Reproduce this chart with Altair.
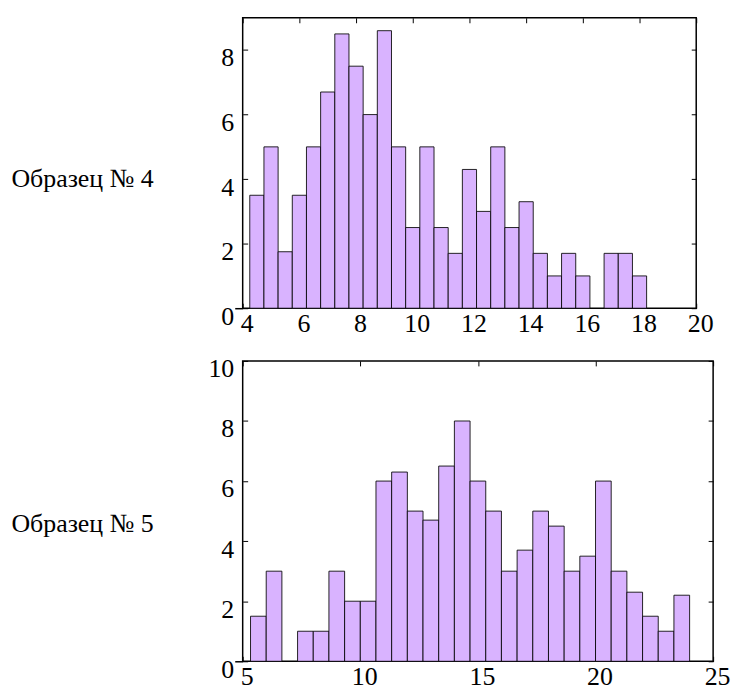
import altair as alt
import pandas as pd

# Sample 4: bin centres (width 0.5) and heights
s4_centers = [4.5, 5.0, 5.5, 6.0, 6.5, 7.0, 7.5, 8.0, 8.5, 9.0, 9.5, 10.0, 10.5, 11.0,
              11.5, 12.0, 12.5, 13.0, 13.5, 14.0, 14.5, 15.0, 15.5, 16.0, 16.5, 17.0,
              17.5, 18.0]
s4_values = [3.5, 5.0, 1.75, 3.5, 5.0, 6.7, 8.5, 7.5, 6.0, 8.6, 5.0, 2.5, 5.0, 2.5,
             1.7, 4.3, 3.0, 5.0, 2.5, 3.3, 1.7, 1.0, 1.7, 1.0, 0.0, 1.7, 1.7, 1.0]
s4_width = 0.5

# Sample 5: bin centres (width 2/3) and heights
s5_width = 2 / 3
s5_centers = [5.667 + k * s5_width for k in range(28)]
s5_values = [1.5, 3.0, 0.0, 1.0, 1.0, 3.0, 2.0, 2.0, 6.0, 6.3, 5.0, 4.7, 6.5, 8.0,
             6.0, 5.0, 3.0, 3.7, 5.0, 4.5, 3.0, 3.5, 6.0, 3.0, 2.3, 1.5, 1.0, 2.2]

labels = ["Образец № 4", "Образец № 5"]

FONT = "Liberation Serif, Times New Roman, serif"
FILL = "#d9b3ff"
FS = 26


def make_df(centers, values, w):
    return pd.DataFrame({
        "x0": [c - w / 2 for c in centers],
        "x1": [c + w / 2 for c in centers],
        "y": values,
    }).query("y > 0")


def panel(df, xdom, xticks, ydom, yticks, label, w, h, ty):
    base = alt.Chart(df)
    xs = alt.Scale(domain=xdom, nice=False, zero=False)
    ys = alt.Scale(domain=ydom, nice=False)
    bars = base.mark_rect(fill=FILL, stroke="#000000", strokeWidth=1, strokeOpacity=0.85).encode(
        x=alt.X("x0:Q", scale=xs,
                axis=alt.Axis(values=xticks, title=None, grid=False, labelFont=FONT,
                              labelFontSize=FS, labelColor="black", domain=False,
                              tickColor="black", tickSize=5, offset=-5, labelPadding=2,
                              labelOffset=4, labelFlush=False)),
        x2="x1:Q",
        y=alt.Y("y:Q", scale=ys,
                axis=alt.Axis(values=yticks, title=label, titleAngle=0, titleAlign="right",
                              titleBaseline="alphabetic", titleFont=FONT, titleFontSize=FS,
                              titleFontWeight="normal", titleColor="black",
                              titleX=-95, titleY=ty,
                              grid=False, labelFont=FONT, labelFontSize=FS,
                              labelColor="black", domain=False, tickColor="black",
                              tickSize=5, offset=-5, labelPadding=9, labelOffset=8,
                              labelFlush=False)),
    )
    frame_ax = base.mark_rule(opacity=0).encode(
        x=alt.X("x0:Q", scale=xs,
                axis=alt.Axis(orient="top", values=xticks, labels=False, title=None,
                              domain=False, tickColor="black", tickSize=5, offset=-5,
                              grid=False)),
        y=alt.Y("y:Q", scale=ys,
                axis=alt.Axis(orient="right", values=yticks, labels=False, title=None,
                              domain=False, tickColor="black", tickSize=5, offset=-5,
                              grid=False)),
    )
    # short outward stub of the baseline to the left of the frame
    stub_ax = base.mark_rule(opacity=0).encode(
        y=alt.Y("y:Q", scale=ys,
                axis=alt.Axis(orient="left", values=[ydom[0]], labels=False, title=None,
                              domain=False, tickColor="black", tickSize=8, tickWidth=1.5,
                              grid=False)),
    )
    return alt.layer(bars, frame_ax, stub_ax).resolve_axis(
        x="independent", y="independent").properties(width=w, height=h)


c4 = panel(make_df(s4_centers, s4_values, s4_width), [4, 20], [4, 6, 8, 10, 12, 14, 16, 18, 20],
           [0, 9], [0, 2, 4, 6, 8], labels[0], 456, 292, 170)
c5 = panel(make_df(s5_centers, s5_values, s5_width), [5, 25], [5, 10, 15, 20, 25],
           [0, 10], [0, 2, 4, 6, 8, 10], labels[1], 473, 302, 172)

chart = alt.vconcat(c4, c5, spacing=18).configure(
    background="white",
    padding={"left": 10, "top": 14, "right": 5, "bottom": 0},
    view=alt.ViewConfig(stroke="black", strokeWidth=1.5),
)

chart.save("out.html", embed_options={"renderer": "svg", "actions": False})
